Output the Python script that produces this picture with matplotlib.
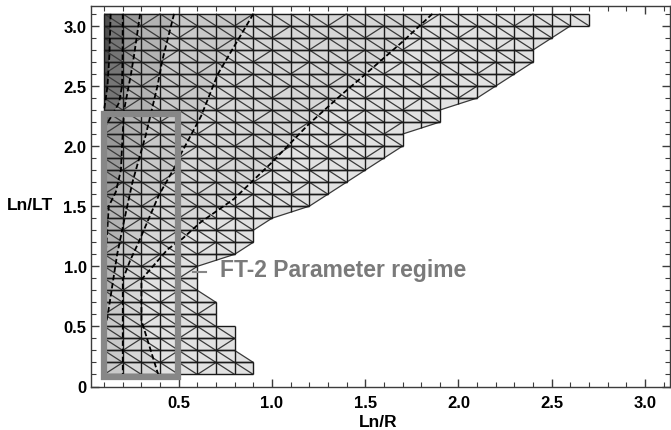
import numpy as np
import matplotlib.pyplot as plt
from matplotlib.collections import LineCollection
from matplotlib.patches import Polygon, Rectangle
from matplotlib.ticker import MultipleLocator, FixedLocator

plt.rcParams['font.family'] = ['Liberation Sans', 'DejaVu Sans']
plt.rcParams['font.weight'] = 'bold'

## mesh of the data domain (rows of 0.1 in Ln/LT)
cell = 0.1
bandBottom = np.round(np.arange(0.1, 3.05, cell), 2)          # lower y of each row of cells
# right edge of each row, at its lower and upper side
edgeLo = [0.9, 0.9, 0.8, 0.8, 0.7, 0.7, 0.7, 0.6, 0.6, 0.6,
          0.8, 0.9, 0.9, 1.0, 1.2, 1.3, 1.4, 1.5, 1.6, 1.7,
          1.7, 1.9, 1.9, 2.1, 2.2, 2.3, 2.4, 2.4, 2.5, 2.7]
edgeHi = [0.9, 0.8, 0.8, 0.8, 0.7, 0.7, 0.6, 0.6, 0.6, 0.8,
          0.9, 0.9, 1.0, 1.2, 1.3, 1.4, 1.5, 1.6, 1.7, 1.7,
          1.9, 1.9, 2.1, 2.2, 2.3, 2.4, 2.4, 2.5, 2.6, 2.7]

## dashed contour lines (Ln/R, Ln/LT), from the darkest side outwards
contourA = [(0.135, 3.1), (0.128, 2.75), (0.118, 2.5), (0.1, 2.3)]
contourB = [(0.2, 3.1), (0.199, 2.75), (0.196, 2.5), (0.18, 2.36), (0.14, 2.25),
            (0.1, 2.15)]
contourC = [(0.293, 3.1), (0.26, 2.75), (0.243, 2.59), (0.207, 2.3), (0.196, 2.0),
            (0.19, 1.8), (0.163, 1.62), (0.125, 1.5), (0.113, 1.2), (0.1, 0.95)]
contourD = [(0.475, 3.1), (0.413, 2.72), (0.386, 2.5), (0.323, 2.09), (0.252, 1.7),
            (0.21, 1.4), (0.17, 1.1), (0.14, 0.8), (0.12, 0.6), (0.1, 0.45)]
contourE = [(0.9, 3.1), (0.71, 2.6), (0.62, 2.25), (0.51, 1.93), (0.484, 1.84),
            (0.393, 1.59), (0.285, 1.2), (0.24, 1.05), (0.2, 0.89), (0.2, 0.1)]
contourF = [(1.86, 3.1), (1.706, 2.877), (1.492, 2.586), (1.367, 2.42), (1.198, 2.184),
            (1.0, 1.865), (0.796, 1.56), (0.617, 1.366), (0.52, 1.23), (0.44, 1.14),
            (0.3, 0.89), (0.3, 0.55), (0.39, 0.1)]
contours = [contourF, contourE, contourD, contourC, contourB, contourA]
bandColors = ['#d7d7d7', '#c9c9c9', '#b3b3b3', '#999999', '#767676', '#4f4f4f']
baseColor = '#e2e2e2'

# FT-2 box
boxX = (0.1, 0.495)
boxY = (0.08, 2.27)

xTicks = [0.5, 1.0, 1.5, 2.0, 2.5, 3.0]
yTicks = [0, 0.5, 1.0, 1.5, 2.0, 2.5, 3.0]
yTickLabels = ['0', '0.5', '1.0', '1.5', '2.0', '2.5', '3.0']


## figure
fig = plt.figure(figsize=(6.71, 4.31), dpi=100)
ax = fig.add_axes([90.7/671, 43.5/431, (670-90.7)/671, (387.5-6.7)/431])
ax.set_xlim(0.028, 3.134)
ax.set_ylim(0.0, 3.168)

# outline of the domain
outline = [(0.1, 0.1), (0.1, 3.1)]
for k in range(len(bandBottom)-1, -1, -1):
    outline.append((edgeHi[k], bandBottom[k]+cell))
    outline.append((edgeLo[k], bandBottom[k]))
domain = Polygon(outline, closed=True, facecolor=baseColor, edgecolor='none', zorder=1)
ax.add_patch(domain)

# shaded contour bands, clipped to the domain
for line, col in zip(contours, bandColors):
    xEnd, yEnd = line[-1]
    pts = list(line)
    if yEnd <= 0.1:
        pts += [(xEnd, -1), (-1, -1)]
    else:
        pts += [(-1, yEnd)]
    pts += [(-1, 4), (line[0][0], 4)]
    band = Polygon(pts, closed=True, facecolor=col, edgecolor='none', zorder=2)
    ax.add_patch(band)
    band.set_clip_path(domain)

# triangulated mesh
gridSegs = []
diagSegs = []
for k, y0 in enumerate(bandBottom):
    y1 = y0 + cell
    lo, hi = edgeLo[k], edgeHi[k]
    m = min(lo, hi)
    xs = np.round(np.arange(0.1, m + 1e-6, cell), 2)
    gridSegs.append([(0.1, y0), (lo, y0)])
    gridSegs.append([(0.1, y1), (hi, y1)])
    for x in xs:
        gridSegs.append([(x, y0), (x, y1)])
    for i in range(len(xs)-1):
        if (i + 2*k) % 5 == 0:
            diagSegs.append([(xs[i], y0), (xs[i+1], y1)])
        else:
            diagSegs.append([(xs[i], y1), (xs[i+1], y0)])
    if hi > lo + 1e-6:
        diagSegs.append([(lo, y0), (hi, y1)])
        for x in np.round(np.arange(lo+cell, hi - 1e-6, cell), 2):
            gridSegs.append([(x, y1), (x, y0 + (x-lo)/(hi-lo)*cell)])
    elif lo > hi + 1e-6:
        diagSegs.append([(hi, y1), (lo, y0)])
        for x in np.round(np.arange(hi+cell, lo - 1e-6, cell), 2):
            gridSegs.append([(x, y0), (x, y1 - (x-hi)/(lo-hi)*cell)])

ax.add_collection(LineCollection(diagSegs, colors='#3a3a3a', linewidths=0.9, zorder=3))
ax.add_collection(LineCollection(gridSegs, colors='#1a1a1a', linewidths=1.0, zorder=3))

# contour lines
for line in contours:
    xs, ys = zip(*line)
    ax.plot(xs, ys, color='black', linewidth=1.3, dashes=(3, 1.5), zorder=4)

# parameter regime box and label
ax.add_patch(Rectangle((boxX[0], boxY[0]), boxX[1]-boxX[0], boxY[1]-boxY[0],
                       fill=False, edgecolor='#878787', linewidth=4.5, zorder=5))
ax.plot([0.575, 0.645], [0.95, 0.95], color='#878787', linewidth=1.5, zorder=5)
ax.text(0.72, 0.97, 'FT-2 Parameter regime', color='#7a7a7a', fontsize=16.5,
        fontweight='bold', va='center', ha='left', zorder=6)

# frame and ticks
for sp in ax.spines.values():
    sp.set_color('#3c3c3c')
    sp.set_linewidth(1.0)
ax.xaxis.set_major_locator(FixedLocator(xTicks))
ax.xaxis.set_minor_locator(MultipleLocator(0.1))
ax.yaxis.set_major_locator(FixedLocator(yTicks))
ax.set_yticklabels(yTickLabels)
ax.yaxis.set_minor_locator(MultipleLocator(0.1))
ax.tick_params(which='both', direction='in', top=True, right=True, color='#3c3c3c',
               labelsize=12)
ax.tick_params(which='major', length=6, width=1.0)
ax.tick_params(which='minor', length=3.5, width=0.8)
ax.tick_params(axis='x', pad=6)
ax.tick_params(axis='y', pad=3)
for lab in ax.get_xticklabels() + ax.get_yticklabels():
    lab.set_fontweight('bold')

fig.text(30/671, 1 - 206/431, 'Ln/LT', fontsize=12.5, fontweight='bold', ha='center', va='center')
fig.text(378/671, 1 - 423/431, 'Ln/R', fontsize=12.5, fontweight='bold', ha='center', va='center')

fig.savefig('out.png', dpi=100)
